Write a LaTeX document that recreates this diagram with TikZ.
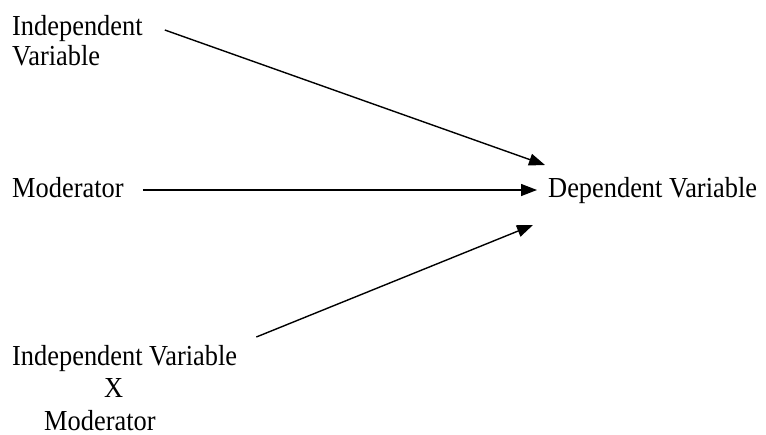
\documentclass[tikz,border=0pt]{standalone}
\usepackage{fontspec}
\setmainfont[FakeStretch=0.91]{Liberation Serif}
\usetikzlibrary{arrows.meta,calc}
\tikzset{
  lbl/.style={inner sep=0pt, font=\fontsize{29}{30}\selectfont},
  arr/.style={line width=1.4pt, -{Triangle[length=16pt,width=12pt]}}
}
\begin{document}
\begin{tikzpicture}[x=1pt,y=-1pt]
\useasboundingbox[fill=white] (0,0) rectangle (766,434);
\node[lbl, anchor=base west] (mod) at (12,197) {Moderator};
\node[lbl, anchor=base west] (dv) at (548,197) {Dependent Variable};
\node[lbl, anchor=north west, align=left] (iv) at (12,15) {Independent\\Variable};
\node[lbl, anchor=north west, align=left, font=\fontsize{29}{32.5}\selectfont] (ivm) at (12,345) {Independent Variable\\\hspace*{92pt}X\\\hspace*{32pt}Moderator};
\draw[arr] ($(iv.north east)+(22,15)$) -- ($(dv.base west)+(-3,-32)$);
\draw[arr] ($(mod.base east)+(19,-7)$) -- ($(dv.base west)+(-11,-7)$);
\draw[arr] ($(ivm.north east)+(19,-8)$) -- ($(dv.base west)+(-15,28)$);
\end{tikzpicture}
\end{document}
